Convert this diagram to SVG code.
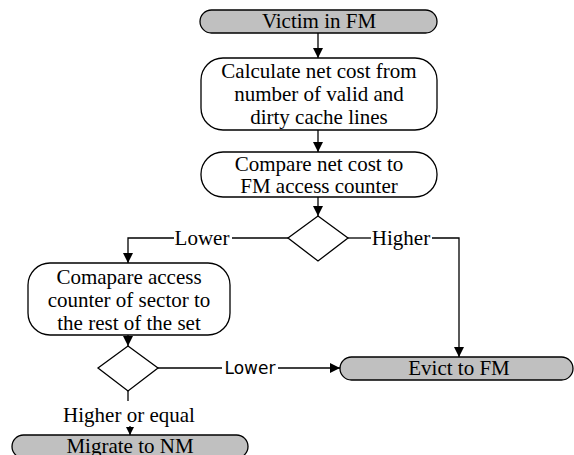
<svg xmlns="http://www.w3.org/2000/svg" width="574" height="455" viewBox="0 0 574 455">
<defs>
<style>
.t{font-family:"Liberation Serif","Times New Roman",serif;font-size:21px;fill:#000;text-anchor:middle}
.s{font-family:"DejaVu Sans",sans-serif;font-size:17px;fill:#000;text-anchor:middle}
.term{fill:#c0c0c0;stroke:#000;stroke-width:1.3}
.proc{fill:#fff;stroke:#000;stroke-width:1.3}
.c{fill:none;stroke:#000;stroke-width:1.3}
</style>
<marker id="ah" viewBox="0 0 10 10" refX="10" refY="5" markerWidth="10" markerHeight="10" markerUnits="userSpaceOnUse" orient="auto">
<path d="M0,0 L10,5 L0,10 Z" fill="#000"/>
</marker>
<marker id="ahs" viewBox="0 0 10 10" refX="10" refY="5" markerWidth="8" markerHeight="8" markerUnits="userSpaceOnUse" orient="auto">
<path d="M0,0 L10,5 L0,10 Z" fill="#000"/>
</marker>
</defs>
<g id="connectors">
<line class="c" x1="318" y1="33" x2="318" y2="58" marker-end="url(#ah)"/>
<line class="c" x1="318" y1="130" x2="318" y2="152" marker-end="url(#ah)"/>
<line class="c" x1="318" y1="197" x2="318" y2="216" marker-end="url(#ah)"/>
<polyline class="c" points="288,238 232,238"/>
<polyline class="c" points="174,238 128,238 128,263" marker-end="url(#ah)"/>
<polyline class="c" points="348,238 371,238"/>
<polyline class="c" points="432,238 459,238 459,357" marker-end="url(#ah)"/>
<line class="c" x1="128" y1="335" x2="128" y2="346" marker-end="url(#ah)"/>
<line class="c" x1="158" y1="368" x2="222" y2="368"/>
<line class="c" x1="278" y1="368" x2="340" y2="368" marker-end="url(#ah)"/>
<line class="c" x1="128" y1="391" x2="128" y2="401"/>
<line class="c" x1="130" y1="426" x2="130" y2="435" marker-end="url(#ahs)"/>
<text class="t" x="202" y="245">Lower</text>
<text class="t" x="401" y="245">Higher</text>
<text class="s" x="250" y="374">Lower</text>
<text class="t" x="129" y="422">Higher or equal</text>
</g>
<g id="victim">
<rect class="term" x="200" y="10" width="237" height="23" rx="11.5"/>
<text class="t" x="319" y="28">Victim in FM</text>
</g>
<g id="calc">
<rect class="proc" x="201" y="58" width="236" height="72" rx="22"/>
<text class="t" x="319" y="78">Calculate net cost from</text>
<text class="t" x="319" y="101">number of valid and</text>
<text class="t" x="319" y="124">dirty cache lines</text>
</g>
<g id="compare">
<rect class="proc" x="201" y="152" width="236" height="45" rx="22"/>
<text class="t" x="319" y="171">Compare net cost to</text>
<text class="t" x="319" y="193">FM access counter</text>
</g>
<g id="decision1">
<polygon class="proc" points="318,216 348,238 318,261 288,238"/>
</g>
<g id="compare2">
<rect class="proc" x="28" y="263" width="202" height="72" rx="22"/>
<text class="t" x="129" y="284">Comapare access</text>
<text class="t" x="129" y="307">counter of sector to</text>
<text class="t" x="129" y="330">the rest of the set</text>
</g>
<g id="decision2">
<polygon class="proc" points="128,346 158,368 128,391 98,368"/>
</g>
<g id="evict">
<rect class="term" x="340" y="357" width="233" height="23" rx="11.5"/>
<text class="t" x="459" y="375">Evict to FM</text>
</g>
<g id="migrate">
<rect class="term" x="12" y="435" width="236" height="23" rx="11.5"/>
<text class="t" x="130" y="453">Migrate to NM</text>
</g>
</svg>
